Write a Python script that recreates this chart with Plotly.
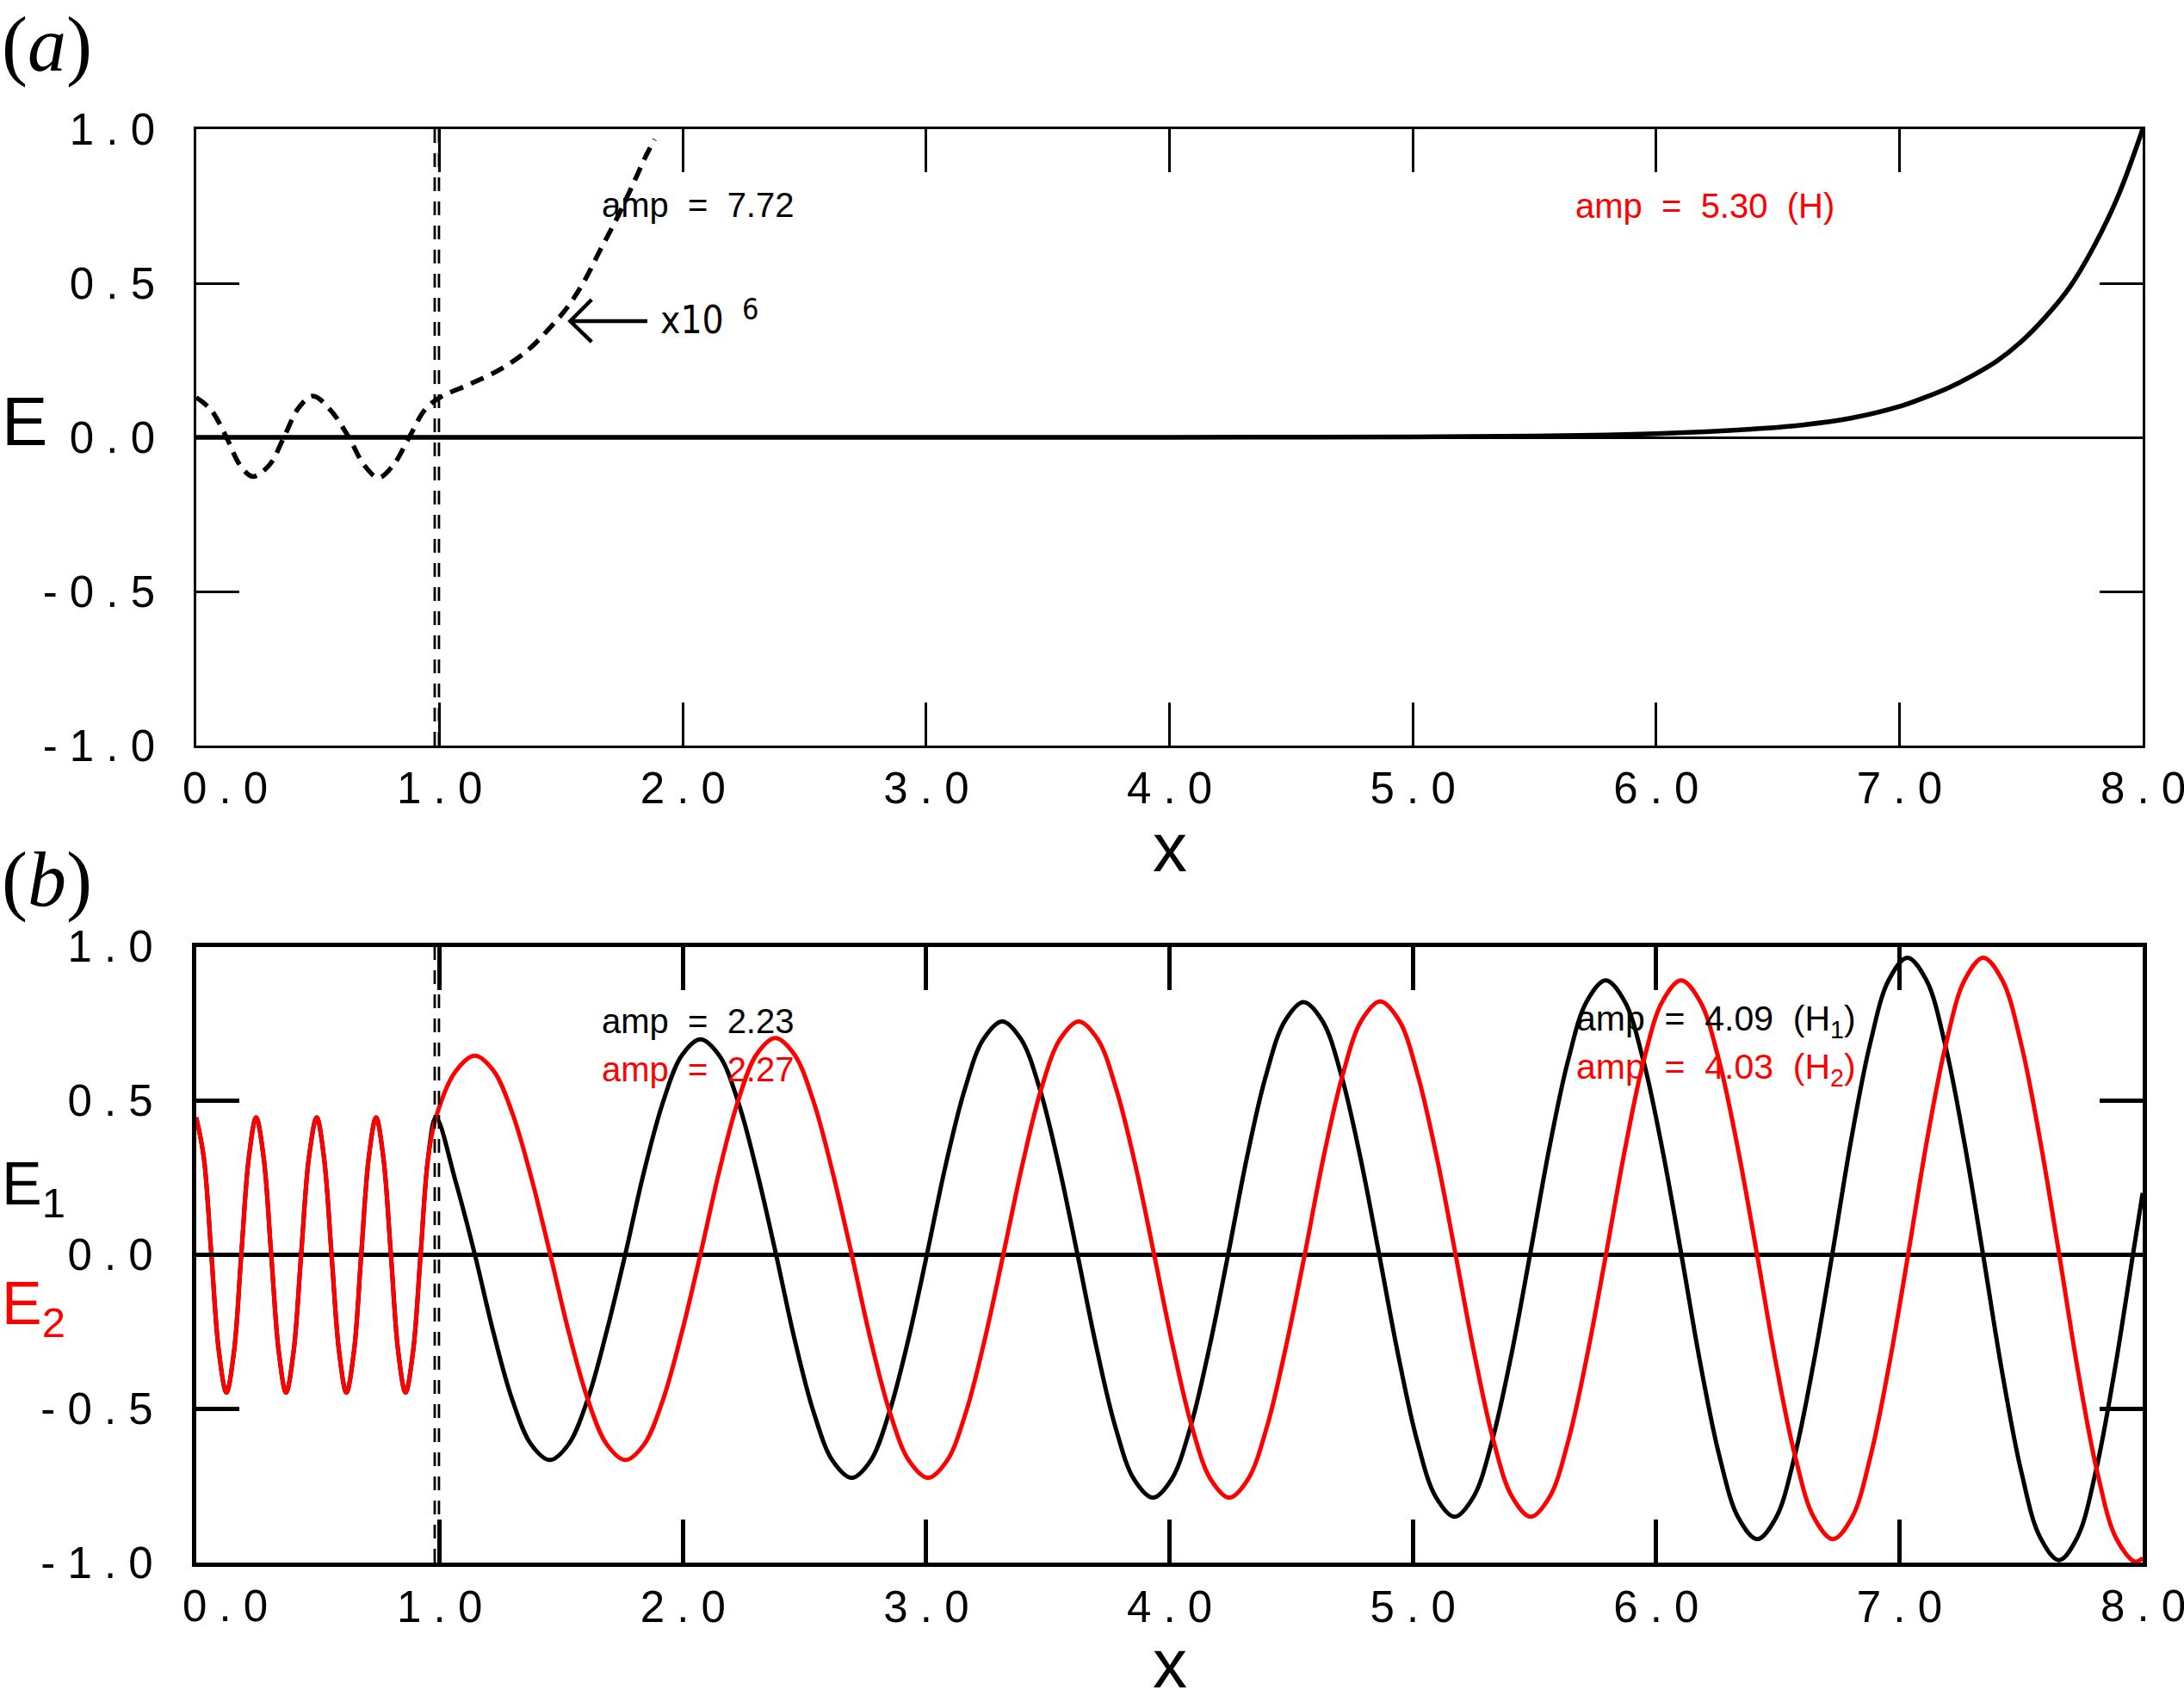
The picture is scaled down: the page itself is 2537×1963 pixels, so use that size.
import plotly.graph_objects as go

# ---------------- data ----------------
# panel (a): solid E curve
a_solid_x = [0, 1, 2, 3, 4, 5.0, 5.5, 5.8, 6.0, 6.2, 6.4, 6.6, 6.8, 7.0, 7.1, 7.2, 7.3, 7.4, 7.5,
             7.6, 7.7, 7.8, 7.9, 8.0]
a_solid_y = [0, 0, 0, 0, 0.0003, 0.0015, 0.004, 0.008, 0.012, 0.018, 0.027, 0.040, 0.062, 0.10, 0.128,
             0.160, 0.200, 0.247, 0.310, 0.39, 0.487, 0.62, 0.785, 1.0]

# panel (a): dashed curve (x10^6)
a_dash_x = [0.0, 0.06, 0.124, 0.18, 0.232, 0.30, 0.36, 0.42, 0.479, 0.55, 0.627, 0.69, 0.749, 0.81,
            0.875, 0.94, 1.0, 1.12, 1.255, 1.363, 1.445, 1.526, 1.594, 1.661, 1.729, 1.796, 1.85, 1.884]
a_dash_y = [0.129, 0.09, 0.0, -0.09, -0.127, -0.09, 0.0, 0.095, 0.134, 0.09, 0.0, -0.09, -0.131, -0.09,
            0.0, 0.09, 0.129, 0.171, 0.223, 0.283, 0.348, 0.423, 0.506, 0.609, 0.711, 0.823, 0.916, 0.967]

# panel (b): inner region (x < 1), shared by E1 and E2
b_inner_x = [0.0, 0.031, 0.062, 0.093, 0.124, 0.155, 0.185, 0.216, 0.246, 0.277, 0.308, 0.339, 0.369,
             0.400, 0.431, 0.463, 0.495, 0.525, 0.556, 0.587, 0.617, 0.648, 0.678, 0.709, 0.739, 0.769,
             0.800, 0.830, 0.860, 0.891, 0.922, 0.953]
b_inner_y = [0.445, 0.315, 0.0, -0.315, -0.448, -0.315, 0.0, 0.315, 0.445, 0.315, 0.0, -0.315, -0.448,
             -0.315, 0.0, 0.315, 0.445, 0.315, 0.0, -0.315, -0.448, -0.315, 0.0, 0.315, 0.445, 0.315,
             0.0, -0.315, -0.448, -0.315, 0.0, 0.315]

# panel (b): E1 (black) outer region
e1_x = [0.985, 1.065, 1.145,
        1.222, 1.299, 1.376, 1.453, 1.530, 1.608, 1.685, 1.763,
        1.840, 1.918, 1.995, 2.072, 2.150, 2.228, 2.305, 2.383,
        2.460, 2.538, 2.616, 2.694, 2.771, 2.848, 2.926, 3.003,
        3.080, 3.158, 3.235, 3.313, 3.390, 3.468, 3.545, 3.622,
        3.700, 3.777, 3.854, 3.932, 4.009, 4.087, 4.164, 4.241,
        4.318, 4.396, 4.474, 4.551, 4.629, 4.707, 4.785, 4.862,
        4.940, 5.017, 5.094, 5.172, 5.250, 5.327, 5.405, 5.482,
        5.560, 5.638, 5.715, 5.793, 5.871, 5.948, 6.026, 6.104,
        6.182, 6.260, 6.338, 6.416, 6.493, 6.570, 6.647, 6.724,
        6.801, 6.879, 6.956, 7.033, 7.111, 7.188, 7.266, 7.344,
        7.422, 7.500, 7.578, 7.656, 7.732, 7.808, 7.884, 7.960, 8.0]
e1_y = [0.445, 0.24, 0.0,
        -0.255, -0.472, -0.616, -0.667, -0.616, -0.472, -0.255, 0.0,
        0.268, 0.494, 0.646, 0.699, 0.646, 0.494, 0.268, 0.0,
        -0.278, -0.513, -0.670, -0.725, -0.670, -0.513, -0.278, 0.0,
        0.290, 0.535, 0.699, 0.757, 0.699, 0.535, 0.290, 0.0,
        -0.302, -0.558, -0.729, -0.789, -0.729, -0.558, -0.302, 0.0,
        0.314, 0.580, 0.758, 0.820, 0.758, 0.580, 0.314, 0.0,
        -0.326, -0.602, -0.786, -0.851, -0.786, -0.602, -0.326, 0.0,
        0.341, 0.629, 0.822, 0.890, 0.822, 0.629, 0.341, 0.0,
        -0.354, -0.653, -0.854, -0.924, -0.854, -0.653, -0.354, 0.0,
        0.369, 0.682, 0.891, 0.964, 0.891, 0.682, 0.369, 0.0,
        -0.380, -0.701, -0.917, -0.992, -0.917, -0.701, -0.380, 0.0, 0.2]

# panel (b): E2 (red) outer region
e2_x = [0.985, 1.065, 1.145, 1.222, 1.300, 1.378, 1.455,
        1.532, 1.610, 1.687, 1.764, 1.841, 1.918, 1.995, 2.072,
        2.149, 2.226, 2.303, 2.380, 2.458, 2.537, 2.615, 2.694,
        2.772, 2.851, 2.930, 3.008, 3.085, 3.163, 3.240, 3.317,
        3.395, 3.472, 3.550, 3.627, 3.705, 3.782, 3.860, 3.937,
        4.015, 4.092, 4.169, 4.246, 4.323, 4.401, 4.478, 4.556,
        4.633, 4.711, 4.789, 4.866, 4.944, 5.021, 5.099, 5.176,
        5.254, 5.331, 5.408, 5.485, 5.563, 5.640, 5.717, 5.794,
        5.872, 5.949, 6.026, 6.103, 6.181, 6.259, 6.337, 6.415,
        6.493, 6.571, 6.649, 6.727, 6.805, 6.882, 6.959, 7.036,
        7.113, 7.191, 7.268, 7.345, 7.423, 7.501, 7.579, 7.657,
        7.735, 7.813, 7.891, 7.969, 8.0]
e2_y = [0.445, 0.594, 0.646, 0.597, 0.457, 0.247, 0.0,
        -0.255, -0.472, -0.616, -0.667, -0.616, -0.472, -0.255, 0.0,
        0.269, 0.497, 0.650, 0.703, 0.650, 0.497, 0.269, 0.0,
        -0.278, -0.513, -0.670, -0.725, -0.670, -0.513, -0.278, 0.0,
        0.290, 0.535, 0.699, 0.757, 0.699, 0.535, 0.290, 0.0,
        -0.302, -0.558, -0.729, -0.789, -0.729, -0.558, -0.302, 0.0,
        0.315, 0.581, 0.760, 0.822, 0.760, 0.581, 0.315, 0.0,
        -0.326, -0.602, -0.786, -0.851, -0.786, -0.602, -0.326, 0.0,
        0.341, 0.629, 0.822, 0.890, 0.822, 0.629, 0.341, 0.0,
        -0.354, -0.653, -0.854, -0.924, -0.854, -0.653, -0.354, 0.0,
        0.369, 0.682, 0.891, 0.964, 0.891, 0.682, 0.369, 0.0,
        -0.382, -0.705, -0.921, -0.997, -0.985]

# interface lines
interface_x = [0.980, 0.9975]

# ticks
x_tick_vals = [1, 2, 3, 4, 5, 6, 7]
x_tick_text = ["1 . 0", "2 . 0", "3 . 0", "4 . 0", "5 . 0", "6 . 0", "7 . 0"]
x_first_label = "0 . 0"
x_last_label = "8 . 0"
y_tick_vals = [-1, -0.5, 0, 0.5, 1]
y_tick_text = ["- 1 . 0", "- 0 . 5", "0 . 0", "0 . 5", "1 . 0"]

# ---------------- layout geometry ----------------
W, H = 2537, 1963
L, R, T, B = 228, 48, 150, 148
PH = H - T - B
PW = W - L - R


def py(yf):
    return (H - B - yf) / PH


def pxx(xf):
    return (xf - L) / PW


SANS = "Liberation Sans"
NARROW = "Liberation Sans Narrow, DejaVu Sans Condensed, Liberation Sans"
SERIF = "Liberation Serif"
RED = "#ff0000"
NB = "\u00a0"

fig = go.Figure()

fig.add_trace(go.Scatter(x=a_solid_x, y=a_solid_y, mode="lines", xaxis="x", yaxis="y",
                         line=dict(color="black", width=5.5, shape="spline", simplify=False),
                         showlegend=False))
fig.add_trace(go.Scatter(x=a_dash_x, y=a_dash_y, mode="lines", xaxis="x", yaxis="y",
                         line=dict(color="black", width=5.5, shape="spline", dash="16px,10px",
                                   simplify=False),
                         showlegend=False))
fig.add_trace(go.Scatter(x=b_inner_x + e1_x, y=b_inner_y + e1_y, mode="lines", xaxis="x2", yaxis="y2",
                         line=dict(color="black", width=5, shape="spline", simplify=False),
                         showlegend=False))
fig.add_trace(go.Scatter(x=b_inner_x + e2_x, y=b_inner_y + e2_y, mode="lines", xaxis="x2", yaxis="y2",
                         line=dict(color=RED, width=5, shape="spline", simplify=False),
                         showlegend=False))

shapes = []
for xr, yr in (("x", "y domain"), ("x2", "y2 domain")):
    for xv in interface_x:
        shapes.append(dict(type="line", xref=xr, yref=yr, x0=xv, x1=xv, y0=0, y1=1,
                           line=dict(color="black", width=2.8, dash="16px,12px")))
# arrow pointing at the dashed curve
shapes.append(dict(type="path", xref="x", yref="y",
                   path="M 1.854,0.377 L 1.537,0.377 M 1.625,0.447 L 1.537,0.377 L 1.625,0.31",
                   line=dict(color="black", width=4.5)))

ann = []


def add_text(text, x, y, xref, yref, size, color="black", family=SANS, xanchor="left", yanchor="middle"):
    ann.append(dict(text=text, x=x, y=y, xref=xref, yref=yref, showarrow=False,
                    xanchor=xanchor, yanchor=yanchor,
                    font=dict(family=family, size=size, color=color)))


# panel labels
add_text("(<i>a</i>)", pxx(0), py(52), "paper", "paper", 90, family=SERIF)
add_text("(<i>b</i>)", pxx(0), py(1022), "paper", "paper", 90, family=SERIF)
# y axis labels
add_text("E", pxx(0), py(490), "paper", "paper", 80)
add_text("E<sub>1</sub>", pxx(0), py(1380), "paper", "paper", 70)
add_text("E<sub>2</sub>", pxx(0), py(1519), "paper", "paper", 70, color=RED)
# x axis labels
add_text("x", 4.0, py(984), "x", "paper", 80, xanchor="center")
add_text("x", 4.0, py(1932), "x2", "paper", 80, xanchor="center")
# end tick labels (first one shifted right, last one running off the page as in the original)
for xr, yv in (("x", 915), ("x2", 1866)):
    add_text(x_first_label, 0.12, py(yv), xr, "paper", 51, xanchor="center")
    add_text(x_last_label, 8.0, py(yv), xr, "paper", 51, xanchor="center")
# amplitude texts
sp2 = NB + NB
add_text("amp" + sp2 + "=" + sp2 + "7.72", 1.66, 0.754, "x", "y", 40)
add_text("amp" + sp2 + "=" + sp2 + "5.30" + sp2 + "(H)", 5.66, 0.751, "x", "y", 40, color=RED)
add_text("amp" + sp2 + "=" + sp2 + "2.23", 1.66, 0.757, "x2", "y2", 40)
add_text("amp" + sp2 + "=" + sp2 + "2.27", 1.66, 0.603, "x2", "y2", 40, color=RED)
add_text("amp" + sp2 + "=" + sp2 + "4.09" + sp2 + "(H<sub>1</sub>)", 5.665, 0.757, "x2", "y2", 41)
add_text("amp" + sp2 + "=" + sp2 + "4.03" + sp2 + "(H<sub>2</sub>)", 5.665, 0.603, "x2", "y2", 41, color=RED)
# scale factor
add_text("x10", 1.90, 0.382, "x", "y", 44, family=NARROW)
add_text("6", 2.235, 0.415, "x", "y", 34, family=NARROW)


def xax(lw, anchor):
    return dict(range=[0, 8], anchor=anchor, tickmode="array", tickvals=x_tick_vals, ticktext=x_tick_text,
                ticks="inside", ticklen=50, tickwidth=lw, tickcolor="black",
                showline=True, linewidth=lw, linecolor="black", mirror="ticks",
                showgrid=False, zeroline=False, ticklabelstandoff=3, automargin=False,
                tickfont=dict(family=SANS, size=51, color="black"), fixedrange=True)


def yax(lw, zlw, anchor, domain):
    return dict(range=[-1, 1], anchor=anchor, domain=domain, tickmode="array", tickvals=y_tick_vals,
                ticktext=y_tick_text, ticks="inside", ticklen=50, tickwidth=lw, tickcolor="black",
                showline=True, linewidth=lw, linecolor="black", mirror="ticks",
                showgrid=False, zeroline=True, zerolinewidth=zlw, zerolinecolor="black",
                ticklabelstandoff=35, automargin=False,
                tickfont=dict(family=SANS, size=51, color="black"), fixedrange=True)


fig.update_layout(
    width=W, height=H,
    margin=dict(l=L, r=R, t=T, b=B, pad=0),
    paper_bgcolor="white", plot_bgcolor="white",
    xaxis=xax(2.5, "y"),
    yaxis=yax(2.5, 2.5, "x", [py(866), 1.0]),
    xaxis2=xax(5.3, "y2"),
    yaxis2=yax(5.3, 5.3, "x2", [0.0, py(1099.5)]),
    shapes=shapes,
    annotations=ann,
    showlegend=False,
)

fig.write_html("out.html", config={"displayModeBar": False},
               post_script="document.body.style.margin='0px';")
